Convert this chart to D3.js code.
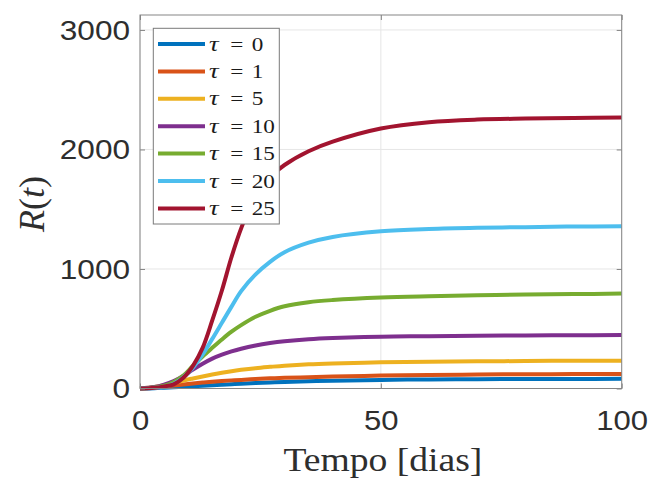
<!DOCTYPE html>
<html><head><meta charset="utf-8">
<script src="https://cdn.jsdelivr.net/npm/d3@7"></script>
<style>body{margin:0;background:#fff}svg{display:block}</style>
</head><body>
<svg id="c" width="653" height="480"></svg>
<script>
// ---- data ----
const tDays = [0,3,5,7,9,11,13,15,17,19,21,24,27,30,35,40,50,60,70,80,90,100];
const tau0  = [0,3,7,11,15,19,23,28,32,36,40,45,51,55,61,65,72,76,78,79,80,81];
const tau1  = [0,8,16,25,33,42,50,57,63,68,72,79,85,89,95,100,108,113,117,119,121,122];
const tau5  = [0,12,28,45,66,84,101,117,132,145,156,170,181,191,203,210,219,224,227,230,232,233];
const tau10 = [0,12,32,62,105,158,207,250,283,310,333,360,380,395,412,422,433,438,441,444,446,447];
const tau15 = [0,8,24,55,108,190,268,340,410,475,530,600,650,688,722,740,761,772,780,786,790,794];
const tau20 = [0,6,15,40,94,175,285,415,550,685,815,955,1060,1140,1220,1268,1315,1335,1345,1350,1355,1358];
const tau25 = [0,6,18,35,90,190,340,570,820,1100,1340,1620,1770,1870,1985,2065,2175,2228,2250,2258,2263,2267];
const seriesValues = [tau0,tau1,tau5,tau10,tau15,tau20,tau25];
const legendLabels = ["0","1","5","10","15","20","25"];
const colors = ["#0072BD","#D95319","#EDB120","#7E2F8E","#77AC30","#4DBEEE","#A2142F"];
const xTicks = [0,50,100];
const yTicks = [0,1000,2000,3000];
const xDomain = [0,100];
const yDomain = [0,3125];
const xLabel = "Tempo [dias]";

// ---- chart ----
const svg = d3.select("#c");
const L=140, R=621.7, T=15, B=388.5;
const x = d3.scaleLinear(xDomain,[L,R]);
const y = d3.scaleLinear(yDomain,[B,T]);
const axisCol="#858585", textCol="#2e2e2e";

// grid
const grid = svg.append("g");
grid.selectAll(".gx").data(xTicks).join("line")
  .attr("x1",d=>x(d)).attr("x2",d=>x(d)).attr("y1",T).attr("y2",B)
  .attr("stroke","#e6e6e6").attr("stroke-width",1);
grid.selectAll(".gy").data(yTicks).join("line")
  .attr("x1",L).attr("x2",R).attr("y1",d=>y(d)).attr("y2",d=>y(d))
  .attr("stroke","#e6e6e6").attr("stroke-width",1);

// lines
const line = d3.line().x((d,i)=>x(tDays[i])).y(d=>y(d)).curve(d3.curveCatmullRom.alpha(0.5));
svg.append("g").selectAll("path").data(seriesValues).join("path")
  .attr("d",d=>line(d)).attr("fill","none")
  .attr("stroke",(d,i)=>colors[i]).attr("stroke-width",4)
  .attr("stroke-linejoin","round").attr("stroke-linecap","butt");

// axes
function styleAxis(g){
  g.select(".domain").remove();
  g.selectAll(".tick line").attr("stroke",axisCol).attr("stroke-width",1);
  g.selectAll(".tick text").attr("fill",textCol)
    .style("font-family","'Liberation Sans', Arial, sans-serif").style("font-size","27px");
}
const gx = svg.append("g").attr("transform",`translate(0,${B})`)
  .call(d3.axisBottom(x).tickValues(xTicks).tickSizeInner(-5).tickSizeOuter(0).tickPadding(22).tickFormat(d3.format("d")));
styleAxis(gx);
gx.selectAll(".tick text").attr("transform","scale(1.15,1)");
const gy = svg.append("g").attr("transform",`translate(${L},0)`)
  .call(d3.axisLeft(y).tickValues(yTicks).tickSizeInner(-5).tickSizeOuter(0).tickPadding(8.5).tickFormat(d3.format("d")));
styleAxis(gy);
gy.selectAll(".tick text").attr("transform","scale(1.17,1)").attr("dy","0.34em");
const gt = svg.append("g").attr("transform",`translate(0,${T})`)
  .call(d3.axisTop(x).tickValues(xTicks).tickSizeInner(-5).tickSizeOuter(0).tickFormat(""));
styleAxis(gt);
const gr = svg.append("g").attr("transform",`translate(${R},0)`)
  .call(d3.axisRight(y).tickValues(yTicks).tickSizeInner(-5).tickSizeOuter(0).tickFormat(""));
styleAxis(gr);

// box
svg.append("rect").attr("x",L).attr("y",T).attr("width",R-L).attr("height",B-T)
  .attr("fill","none").attr("stroke",axisCol).attr("stroke-width",1);

// axis labels
svg.append("text").attr("transform",`translate(${(L+R)/2+2},471) scale(1.14,1)`)
  .attr("text-anchor","middle").attr("fill",textCol)
  .style("font-family","'Liberation Serif','Times New Roman',serif").style("font-size","33px")
  .text(xLabel);
const yl = svg.append("text").attr("transform","translate(44,204) rotate(-90)")
  .attr("text-anchor","middle").attr("fill",textCol)
  .style("font-family","'Liberation Serif','Times New Roman',serif").style("font-size","36px");
yl.append("tspan").style("font-style","italic").text("R");
yl.append("tspan").text("(");
yl.append("tspan").style("font-style","italic").text("t");
yl.append("tspan").text(")");

// legend
const lg = svg.append("g");
lg.append("rect").attr("x",153.3).attr("y",28.3).attr("width",126).attr("height",195.7)
  .attr("fill","#fff").attr("stroke","#7a7a7a").attr("stroke-width",1);
const rowY = i => 44 + i*27.4;
legendLabels.forEach((lab,i)=>{
  const yy = rowY(i);
  lg.append("line").attr("x1",158).attr("x2",205).attr("y1",yy).attr("y2",yy)
    .attr("stroke",colors[i]).attr("stroke-width",4);
  const g = lg.append("g").attr("transform",`translate(209,${yy+6.5}) scale(1.22,1)`)
    .style("font-family","'Liberation Serif','Times New Roman',serif").style("font-size","19px")
    .attr("fill","#1a1a1a");
  g.append("text").attr("x",0).style("font-style","italic").style("font-size","22px").text("τ");
  g.append("text").attr("x",(236.7-209)/1.22).attr("text-anchor","middle").text("=");
  g.append("text").attr("x",(251.7-209)/1.22).text(lab);
});
</script>
</body></html>
